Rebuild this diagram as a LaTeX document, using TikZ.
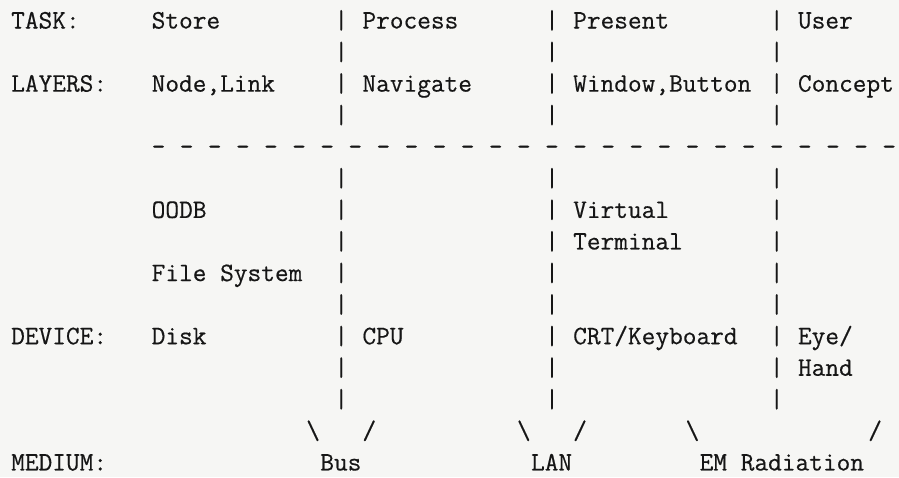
\documentclass[tikz,border=0pt]{standalone}
\usepackage{fontspec}
\setmonofont[FakeBold=0.45]{Latin Modern Mono}
\definecolor{paper}{RGB}{246,246,244}
\definecolor{ink}{RGB}{22,22,22}
% character grid: column width, row height, origin
\def\cw{14.05}
\def\rh{31.57}
\def\ox{11}
\def\oy{28.5}
\newcommand\celltext[4]{\node[txt] (#1) at ({\ox+\cw*#2},{\oy+\rh*#3}) {#4};}
\begin{document}
\begin{tikzpicture}[x=1pt,y=-1pt,
  txt/.style={anchor=base west,inner sep=0pt,text=ink,
    font=\ttfamily\fontsize{26.6}{30}\selectfont}]
\fill[paper] (0,0) rectangle (899,477);
\useasboundingbox (0,0) rectangle (899,477);

% column separators
\foreach \c in {23,38,54}{
  \foreach \r in {0,1,2,3,5,6,7,8,9,10,11,12}{
    \node[txt] (bar\c-\r) at ({\ox+\cw*\c},{\oy+\rh*\r}) {|};
  }
}
% dashed divider between layers and devices
\foreach \c in {10,12,...,62}{
  \node[txt] (dash\c) at ({\ox+\cw*\c},{\oy+\rh*4}) {-};
}

% row: task
\celltext{task}{0}{0}{TASK:}
\celltext{store}{10}{0}{Store}
\celltext{process}{25}{0}{Process}
\celltext{present}{40}{0}{Present}
\celltext{user}{56}{0}{User}
% row: layers
\celltext{layers}{0}{2}{LAYERS:}
\celltext{nodelink}{10}{2}{Node,Link}
\celltext{navigate}{25}{2}{Navigate}
\celltext{winbtn}{40}{2}{Window,Button}
\celltext{concept}{56}{2}{Concept}
% intermediate layers
\celltext{oodb}{10}{6}{OODB}
\celltext{virtual}{40}{6}{Virtual}
\celltext{terminal}{40}{7}{Terminal}
\celltext{filesys}{10}{8}{File~System}
% row: device
\celltext{device}{0}{10}{DEVICE:}
\celltext{disk}{10}{10}{Disk}
\celltext{cpu}{25}{10}{CPU}
\celltext{crt}{40}{10}{CRT/Keyboard}
\celltext{eye}{56}{10}{Eye/}
\celltext{hand}{56}{11}{Hand}
% funnels into the media
\celltext{busl}{21}{13}{\textbackslash}
\celltext{busr}{25}{13}{/}
\celltext{lanl}{36}{13}{\textbackslash}
\celltext{lanr}{40}{13}{/}
\celltext{eml}{48}{13}{\textbackslash}
\celltext{emr}{61}{13}{/}
% row: medium
\celltext{medium}{0}{14}{MEDIUM:}
\celltext{bus}{22}{14}{Bus}
\celltext{lan}{37}{14}{LAN}
\celltext{em}{49}{14}{EM~Radiation}
\end{tikzpicture}
\end{document}
